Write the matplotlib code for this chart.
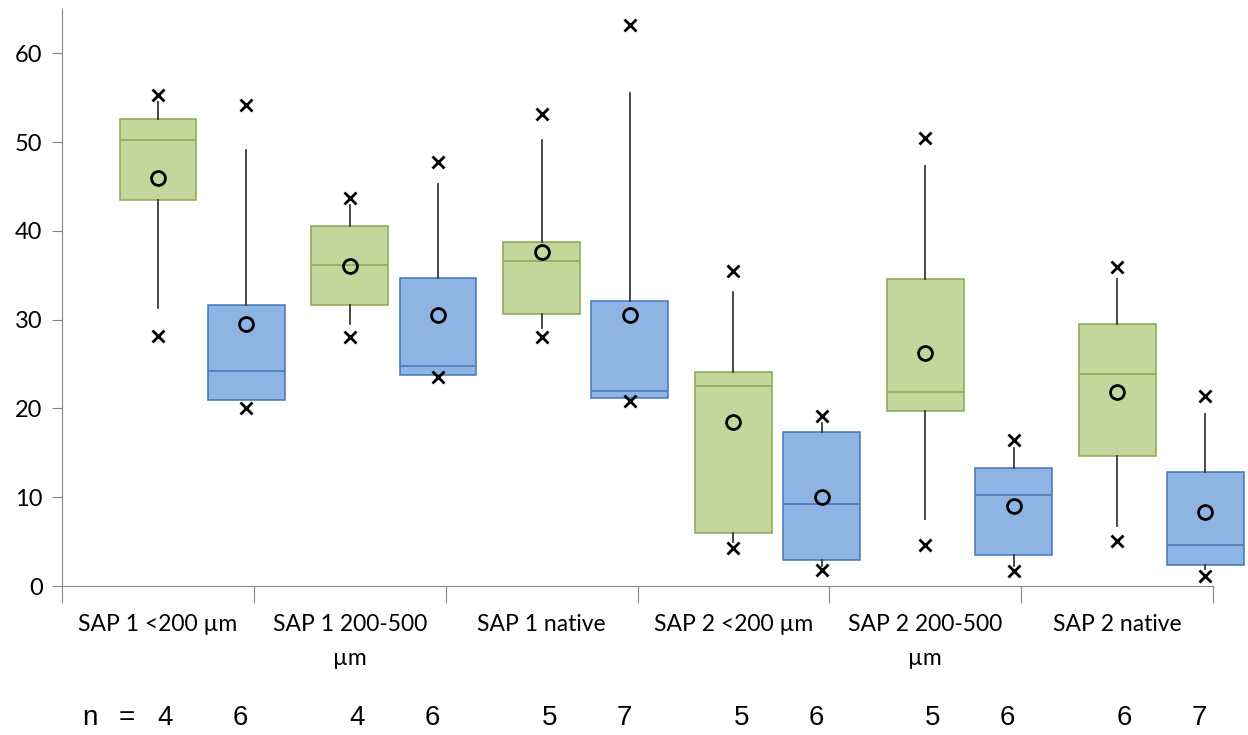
import numpy as np
import matplotlib.pyplot as plt
from matplotlib.transforms import blended_transform_factory

categorias = ["SAP 1 <200 µm", "SAP 1 200-500\nµm", "SAP 1 native",
              "SAP 2 <200 µm", "SAP 2 200-500\nµm", "SAP 2 native"]

# serie verde (primera caja de cada categoria)
verde_q1 = [43.5, 31.6, 30.6, 6.0, 19.7, 14.7]
verde_med = [50.2, 36.2, 36.6, 22.5, 21.8, 23.9]
verde_q3 = [52.6, 40.5, 38.8, 24.1, 34.6, 29.5]
verde_wlo = [31.3, 29.5, 29.1, 5.0, 7.6, 6.8]
verde_whi = [54.5, 42.9, 50.2, 33.1, 47.3, 34.6]
verde_media = [46.0, 36.1, 37.6, 18.5, 26.3, 21.9]
verde_min = [28.2, 28.0, 28.0, 4.3, 4.65, 5.1]
verde_max = [55.3, 43.7, 53.2, 35.5, 50.5, 35.9]
verde_n = [4, 4, 5, 5, 5, 6]

# serie azul (segunda caja)
azul_q1 = [20.9, 23.8, 21.2, 2.9, 3.5, 2.4]
azul_med = [24.2, 24.8, 22.0, 9.2, 10.2, 4.65]
azul_q3 = [31.7, 34.7, 32.1, 17.4, 13.3, 12.8]
azul_wlo = [20.9, 23.8, 21.2, 2.3, 2.3, 1.9]
azul_whi = [49.1, 45.3, 55.5, 18.4, 15.5, 19.4]
azul_media = [29.5, 30.5, 30.5, 10.0, 9.0, 8.3]
azul_min = [20.0, 23.6, 20.8, 1.8, 1.7, 1.1]
azul_max = [54.2, 47.8, 63.2, 19.1, 16.4, 21.4]
azul_n = [6, 6, 7, 6, 6, 7]


def stats(q1, med, q3, wlo, whi, media, mn, mx):
    return [dict(q1=a, med=b, q3=c, whislo=d, whishi=e, mean=f, fliers=[g, h])
            for a, b, c, d, e, f, g, h in zip(q1, med, q3, wlo, whi, media, mn, mx)]


fig = plt.figure(figsize=(12.48, 7.35), dpi=100)
ax = fig.add_axes([0.0497, 0.2027, 0.9223, 0.7851])

x = np.arange(len(categorias))
pos_verde = x + 0.5
pos_azul = x + 0.96


def dibujar(st, pos, relleno, borde):
    arts = ax.bxp(st, positions=pos, widths=0.4, patch_artist=True,
                  showcaps=False, showmeans=True, manage_ticks=False,
                  boxprops=dict(facecolor=relleno, edgecolor=borde, linewidth=1.1),
                  medianprops=dict(color=borde, linewidth=1.1),
                  whiskerprops=dict(color='#3a3a3a', linewidth=1.3),
                  meanprops=dict(marker='o', markerfacecolor='none',
                                 markeredgecolor='black', markeredgewidth=2,
                                 markersize=10),
                  flierprops=dict(marker='x', markeredgecolor='black',
                                  markeredgewidth=2, markersize=8))
    # la ultima caja sobresale del eje
    for lista in arts.values():
        for a in lista:
            a.set_clip_on(False)


dibujar(stats(verde_q1, verde_med, verde_q3, verde_wlo, verde_whi,
              verde_media, verde_min, verde_max), pos_verde, '#c3d69b', '#8ba552')
dibujar(stats(azul_q1, azul_med, azul_q3, azul_wlo, azul_whi,
              azul_media, azul_min, azul_max), pos_azul, '#8eb4e3', '#4675b5')

ax.set_xlim(0, 6)
ax.set_ylim(0, 65)
ax.set_yticks(range(0, 61, 10))
ax.set_xticks(range(0, 7))
ax.set_xticklabels([])
ax.set_xticks(x + 0.5, minor=True)
ax.set_xticklabels(categorias, minor=True, fontsize=16.5, family='Lato',
                   linespacing=1.75, va='top')
ax.tick_params(axis='x', which='minor', length=0, pad=20)
ax.tick_params(axis='x', which='major', length=12, color='#868686')
ax.tick_params(axis='y', length=7, color='#868686', labelsize=17, pad=7)
for t in ax.get_yticklabels():
    t.set_family('Lato')
for s in ['top', 'right']:
    ax.spines[s].set_visible(False)
for s in ['left', 'bottom']:
    ax.spines[s].set_color('#868686')

# fila de tamanos de muestra debajo del eje
tr = blended_transform_factory(ax.transData, fig.transFigure)
fig.text(90 / 1248, 0.023, "n", fontsize=20, ha='center', va='center',
         family='Liberation Sans')
fig.text(127 / 1248, 0.023, "=", fontsize=20, ha='center', va='center',
         family='Liberation Sans')
for xv, n in zip(pos_verde, verde_n):
    fig.text(xv + 0.04, 0.023, str(n), transform=tr, fontsize=20, ha='center',
             va='center', family='Liberation Sans')
for xa, n in zip(pos_azul, azul_n):
    fig.text(xa - 0.03, 0.023, str(n), transform=tr, fontsize=20, ha='center',
             va='center', family='Liberation Sans')

fig.savefig("out.png", dpi=100)
